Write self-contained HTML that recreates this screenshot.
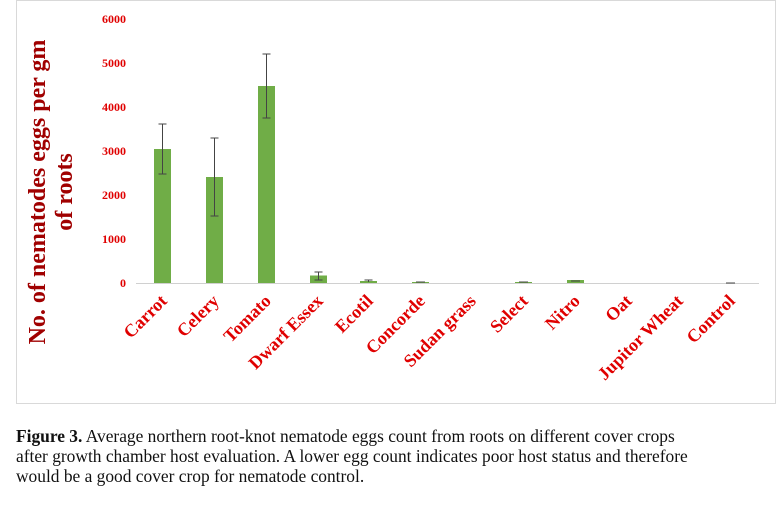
<!DOCTYPE html>
<html><head><style>
body{margin:0;background:#fff;width:777px;height:521px;overflow:hidden;font-family:"Liberation Serif",serif}
.cap{position:absolute;left:16px;top:426px;font-size:17.4px;line-height:20px;color:#111;width:760px;white-space:nowrap}
</style></head><body>
<svg width="777" height="521" style="position:absolute;left:0;top:0" font-family="Liberation Serif, serif">
<rect x="16.5" y="0.5" width="759" height="403" fill="none" stroke="#d9d9d9"/>
<g font-size="12" font-weight="bold" fill="#e00000" text-anchor="end">
<text x="126" y="23">6000</text><text x="126" y="67">5000</text><text x="126" y="111">4000</text>
<text x="126" y="155">3000</text><text x="126" y="199">2000</text><text x="126" y="243">1000</text><text x="126" y="287">0</text>
</g>
<line x1="136" y1="283.5" x2="759" y2="283.5" stroke="#d0d0d0"/>
<g fill="#70ad47">
<rect x="154" y="149" width="17" height="134"/>
<rect x="206" y="177" width="17" height="106"/>
<rect x="258" y="86" width="17" height="197"/>
<rect x="310" y="275.5" width="17" height="7.5"/>
<rect x="360" y="281" width="17" height="2"/>
<rect x="412" y="282" width="17" height="1"/>
<rect x="515" y="282" width="17" height="1"/>
<rect x="567" y="280" width="17" height="3"/>
</g>
<g stroke="#444" stroke-width="1" fill="none">
<path d="M162.5 124V174M158.5 124h8M158.5 174h8"/>
<path d="M214.5 138V216M210.5 138h8M210.5 216h8"/>
<path d="M266.5 54V118M262.5 54h8M262.5 118h8"/>
<path d="M318.5 272V280M314.5 272h8M314.5 280h8"/>
<path d="M368.5 280V282M364.5 280h8"/>
<path d="M416 282h9"/>
<path d="M519 282h9"/><path d="M571 281h9"/><path d="M726 283h9"/>
</g>
<g transform="translate(50,192) rotate(-90)" font-size="24" font-weight="bold" fill="#a00000" text-anchor="middle">
<text x="0" y="-5">No. of nematodes eggs per gm</text>
<text x="0" y="22">of roots</text>
</g>
<g font-size="18" font-weight="bold" fill="#e00000" text-anchor="end">
<text transform="translate(168,302) rotate(-45)">Carrot</text>
<text transform="translate(220,302) rotate(-45)">Celery</text>
<text transform="translate(272,302) rotate(-45)">Tomato</text>
<text transform="translate(324,302) rotate(-45)">Dwarf Essex</text>
<text transform="translate(374,302) rotate(-45)">Ecotil</text>
<text transform="translate(426,302) rotate(-45)">Concorde</text>
<text transform="translate(477,302) rotate(-45)">Sudan grass</text>
<text transform="translate(529,302) rotate(-45)">Select</text>
<text transform="translate(581,302) rotate(-45)">Nitro</text>
<text transform="translate(633,302) rotate(-45)">Oat</text>
<text transform="translate(684,302) rotate(-45)">Jupitor Wheat</text>
<text transform="translate(736,302) rotate(-45)">Control</text>
</g>
</svg>
<div class="cap"><b>Figure 3.</b> Average northern root-knot nematode eggs count from roots on different cover crops<br>after growth chamber host evaluation. A lower egg count indicates poor host status and therefore<br>would be a good cover crop for nematode control.</div>
</body></html>
